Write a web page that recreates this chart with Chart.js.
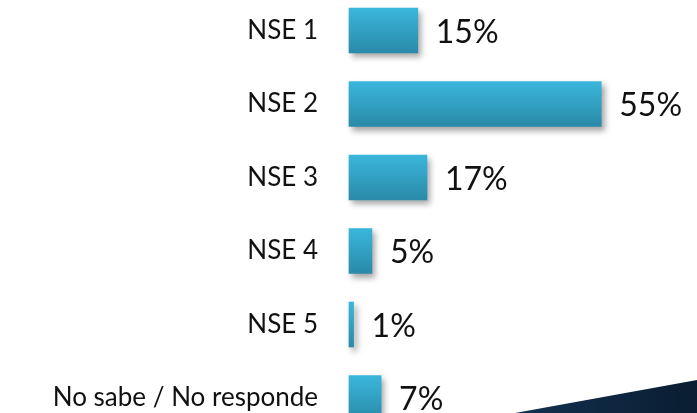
<!DOCTYPE html>
<html>
<head>
<meta charset="utf-8">
<script src="https://cdn.jsdelivr.net/npm/chart.js@4"></script>
<style>
  html, body { margin: 0; padding: 0; background: #fff; }
  #wrap { width: 697px; height: 413px; position: relative; }
</style>
</head>
<body>
<div id="wrap"><canvas id="nseChart"></canvas></div>
<script>
const categories = ['NSE 1', 'NSE 2', 'NSE 3', 'NSE 4', 'NSE 5', 'No sabe / No responde'];
const percentages = [15, 55, 17, 5, 1, 7];

// gradient per bar, light cyan on top to darker teal at the bottom
function barGradient(context) {
  const chart = context.chart;
  const yScale = chart.scales.y;
  if (!yScale || context.dataIndex === undefined) return '#34a9cc';
  const yc = yScale.getPixelForValue(context.dataIndex);
  if (!isFinite(yc)) return '#34a9cc';
  const g = chart.ctx.createLinearGradient(0, yc - 22, 0, yc + 22);
  g.addColorStop(0, '#3ab6db');
  g.addColorStop(1, '#2a8aa9');
  return g;
}

// soft drop shadow under the bars
const barShadow = {
  id: 'barShadow',
  beforeDatasetsDraw(chart) {
    const c = chart.ctx;
    c.save();
    c.shadowColor = 'rgba(0,0,0,0.35)';
    c.shadowBlur = 6;
    c.shadowOffsetX = 3;
    c.shadowOffsetY = 4;
  },
  afterDatasetsDraw(chart) {
    chart.ctx.restore();
  }
};

// percentage text to the right of each bar
const valueLabels = {
  id: 'valueLabels',
  afterDatasetsDraw(chart) {
    const c = chart.ctx;
    const meta = chart.getDatasetMeta(0);
    c.save();
    c.font = '32px Lato, "Open Sans", sans-serif';
    c.fillStyle = '#111';
    c.textAlign = 'left';
    c.textBaseline = 'middle';
    meta.data.forEach((bar, i) => {
      c.fillText(percentages[i] + '%', bar.x + 18, bar.y + 2);
    });
    c.restore();
  }
};

// dark navy swoosh in the bottom right corner
const cornerSwoosh = {
  id: 'cornerSwoosh',
  beforeDraw(chart) {
    const c = chart.ctx;
    const w = chart.width, h = chart.height;
    const g = c.createLinearGradient(w - 180, 0, w, 0);
    g.addColorStop(0, '#12304f');
    g.addColorStop(1, '#0a1d31');
    c.save();
    c.beginPath();
    c.moveTo(w - 182, h);
    c.lineTo(w, h - 33);
    c.lineTo(w, h);
    c.closePath();
    c.fillStyle = g;
    c.fill();
    c.restore();
  }
};

new Chart(document.getElementById('nseChart'), {
  type: 'bar',
  data: {
    labels: categories,
    datasets: [{
      data: percentages,
      backgroundColor: barGradient,
      borderWidth: 0,
      barThickness: 45,
      clip: false
    }]
  },
  options: {
    indexAxis: 'y',
    responsive: true,
    maintainAspectRatio: false,
    animation: false,
    layout: { padding: { top: 30.5, bottom: 15, right: 4, left: 0 } },
    plugins: {
      legend: { display: false },
      tooltip: { enabled: false }
    },
    scales: {
      x: {
        display: false,
        min: 0,
        max: 75
      },
      y: {
        offset: false,
        border: { display: false },
        grid: { display: false, drawTicks: false },
        ticks: {
          color: '#111',
          padding: 31,
          font: { family: 'Lato, "Open Sans", sans-serif', size: 26 }
        },
        afterFit(scale) {
          scale.width = 349;
          scale.paddingTop = 0;
          scale.paddingBottom = 0;
        }
      }
    }
  },
  plugins: [cornerSwoosh, barShadow, valueLabels]
});
</script>
</body>
</html>
